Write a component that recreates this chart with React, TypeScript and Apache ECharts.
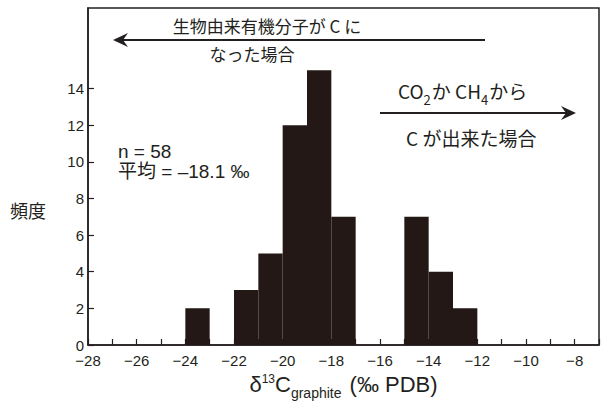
import React, { useEffect, useRef } from "react";
import * as echarts from "echarts";

const binStart = [-24, -22, -21, -20, -19, -18, -15, -14, -13];
const binWidth = 1;
const counts = [2, 3, 5, 12, 15, 7, 7, 4, 2];
const yTicks = [0, 2, 4, 6, 8, 10, 12, 14];

const INK = "#231f20";
const BAR = "#231815";
const JP = "'Noto Sans CJK JP', 'Noto Sans', sans-serif";
const LAT = "'Liberation Sans', Arial, sans-serif";
const MIX = "'Liberation Sans', 'Noto Sans CJK JP', sans-serif";

export default function App() {
  const ref = useRef<HTMLDivElement>(null);
  useEffect(() => {
    document.body.style.margin = "0";
    const chart = echarts.init(ref.current!, null, { renderer: "svg" });
    const data = binStart.map((s, i) => [s, s + binWidth, counts[i]]);
    chart.setOption({
      animation: false,
      grid: {
        left: 88,
        top: 8,
        right: 3,
        bottom: 56,
        outerBoundsMode: "none",
        containLabel: false,
        show: true,
        borderColor: INK,
        borderWidth: 1.5,
      },
      xAxis: {
        type: "value",
        min: -28,
        max: -7,
        interval: 1,
        axisLine: { show: true, lineStyle: { color: INK, width: 1.5 } },
        axisTick: { show: true, inside: true, length: 6, lineStyle: { color: INK, width: 1.2 } },
        axisLabel: {
          color: INK,
          fontFamily: LAT,
          fontSize: 15,
          lineHeight: 13,
          margin: 9,
          formatter: (v: number) =>
            Math.round(v) % 2 === 0 && v <= -8 ? (v < 0 ? "\u2212" + Math.abs(v) : String(v)) : "",
        },
        splitLine: { show: false },
        name: "{d|δ}{sup|13}{d|C}{sub|graphite}{d| (‰ PDB)}",
        nameLocation: "middle",
        nameGap: 17,
        nameTextStyle: {
          color: INK,
          rich: {
            d: { fontFamily: LAT, fontSize: 22, color: INK, lineHeight: 24, verticalAlign: "middle" },
            sup: { fontFamily: LAT, fontSize: 12, color: INK, lineHeight: 24, verticalAlign: "top" },
            sub: { fontFamily: LAT, fontSize: 14, color: INK, lineHeight: 24, verticalAlign: "bottom", padding: [0, 2, -3, 0] },
          },
        },
      },
      yAxis: {
        type: "value",
        min: 0,
        max: 18.4,
        axisLine: { show: true, lineStyle: { color: INK, width: 1.5 } },
        axisTick: { show: true, inside: true, length: 6, customValues: yTicks, lineStyle: { color: INK, width: 1.2 } },
        axisLabel: { color: INK, fontFamily: LAT, fontSize: 15, lineHeight: 12, margin: 4, customValues: yTicks },
        splitLine: { show: false },
      },
      series: [
        {
          type: "custom",
          data,
          encode: { x: [0, 1], y: 2 },
          renderItem: (params: any, api: any) => {
            const p0 = api.coord([api.value(0), api.value(2)]);
            const p1 = api.coord([api.value(1), 0]);
            return {
              type: "rect",
              shape: { x: p0[0], y: p0[1], width: p1[0] - p0[0], height: p1[1] - p0[1] },
              style: { fill: BAR },
            };
          },
        },
      ],
      graphic: [
        { type: "text", x: 10, y: 210, style: { text: "頻度", font: `18px ${JP}`, fill: INK, verticalAlign: "middle" } },
        { type: "text", x: 267, y: 25, style: { text: "生物由来有機分子が C に", font: `17px ${JP}`, fill: INK, align: "center", verticalAlign: "middle" } },
        { type: "line", shape: { x1: 122, y1: 40, x2: 485, y2: 40 }, style: { stroke: INK, lineWidth: 2 } },
        { type: "polygon", shape: { points: [[113, 40], [128, 33], [123, 40], [128, 47]] }, style: { fill: INK } },
        { type: "text", x: 252, y: 53, style: { text: "なった場合", font: `17px ${JP}`, fill: INK, align: "center", verticalAlign: "middle" } },
        {
          type: "text",
          x: 398,
          y: 90,
          style: {
            text: "{a|CO}{s|2}{a|か CH}{s|4}{a|から}",
            fill: INK,
            verticalAlign: "middle",
            rich: {
              a: { font: `19px ${JP}`, fill: INK, lineHeight: 24, verticalAlign: "middle" },
              s: { font: `13px ${JP}`, fill: INK, lineHeight: 24, verticalAlign: "bottom", padding: [0, 1, -4, 0] },
            },
          },
        },
        { type: "line", shape: { x1: 380, y1: 113, x2: 567, y2: 113 }, style: { stroke: INK, lineWidth: 2 } },
        { type: "polygon", shape: { points: [[576, 113], [561, 106], [566, 113], [561, 120]] }, style: { fill: INK } },
        { type: "text", x: 406, y: 137, style: { text: "C が出来た場合", font: `19px ${JP}`, fill: INK, verticalAlign: "middle" } },
        {
          type: "text",
          x: 118,
          y: 161,
          style: {
            text: "n = 58\n平均 = \u201318.1 ‰",
            font: `19px ${MIX}`,
            lineHeight: 20,
            fill: INK,
            verticalAlign: "middle",
          },
        },
      ],
    });
    return () => chart.dispose();
  }, []);
  return <div ref={ref} style={{ width: 602, height: 401 }} />;
}
